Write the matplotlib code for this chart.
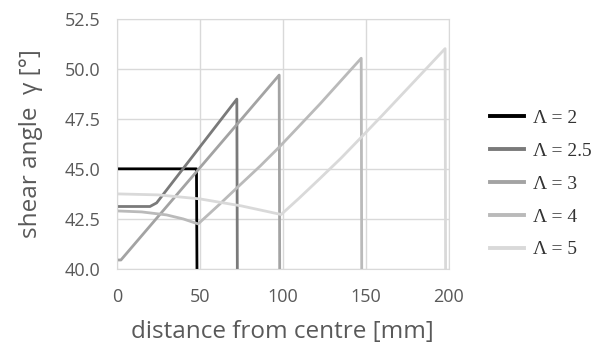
import matplotlib
matplotlib.use("Agg")
import matplotlib.pyplot as plt
from matplotlib.lines import Line2D

# shear angle along the radius for each aspect ratio
lam_labels = ["Λ = 2", "Λ = 2.5", "Λ = 3", "Λ = 4", "Λ = 5"]

x_l2 = [0, 48, 48.3]
y_l2 = [45.0, 45.0, 40.0]

x_l25 = [0, 20, 24, 72.3, 72.6]
y_l25 = [43.12, 43.12, 43.3, 48.48, 40.0]

x_l3 = [0, 2.5, 97.8, 98.1]
y_l3 = [40.45, 40.45, 49.68, 40.0]

x_l4 = [0, 15, 30, 40, 49, 61.5, 74, 86.5, 98, 110, 122.5, 135, 147.2, 147.5]
y_l4 = [42.9, 42.85, 42.7, 42.5, 42.25, 43.2, 44.18, 45.15, 46.1, 47.15, 48.25,
        49.4, 50.52, 40.0]

x_l5 = [0, 25, 50, 75, 99, 110, 122.5, 135, 147.5, 160, 172.5, 185, 197.7, 198.0]
y_l5 = [43.75, 43.7, 43.5, 43.15, 42.72, 43.55, 44.53, 45.53, 46.6, 47.68, 48.78,
        49.88, 51.0, 40.0]

colors = ["#000000", "#7a7a7a", "#a3a3a3", "#bababa", "#d9d9d9"]

fig = plt.figure(figsize=(6.05, 3.44), dpi=100)
ax = fig.add_axes([0.193, 0.218, 0.549, 0.728])

series = [(x_l2, y_l2), (x_l25, y_l25), (x_l3, y_l3), (x_l4, y_l4), (x_l5, y_l5)]
for (xs, ys), c in zip(series, colors):
    ax.plot(xs, ys, color=c, lw=2.0, solid_joinstyle="round")

ax.set_xlim(0, 200)
ax.set_ylim(40, 52.5)
ax.set_xticks([0, 50, 100, 150, 200])
ax.set_yticks([40, 42.5, 45, 47.5, 50, 52.5])
ax.set_yticklabels(["40.0", "42.5", "45.0", "47.5", "50.0", "52.5"])
ax.grid(True, color="#d9d9d9", lw=1.0)
ax.set_axisbelow(True)
for s in ax.spines.values():
    s.set_color("#d9d9d9")
ax.tick_params(axis="x", length=0, labelsize=13, colors="#595959", pad=14)
ax.tick_params(axis="y", length=0, labelsize=13, colors="#595959", pad=12)
for t in ax.get_xticklabels() + ax.get_yticklabels():
    t.set_family("Open Sans")

ax.set_xlabel("distance from centre [mm]", family="Open Sans", fontsize=17.5,
              color="#595959", labelpad=9.5)
ax.set_ylabel("shear angle  γ [°]", family="Open Sans", fontsize=17.5,
              color="#595959", labelpad=15)

handles = [Line2D([], [], color=c, lw=2.8) for c in colors]
leg = fig.legend(handles, lam_labels, loc="center left",
                 bbox_to_anchor=(0.81, 0.465), frameon=False,
                 borderaxespad=0, borderpad=0,
                 prop={"family": "Liberation Serif", "size": 14},
                 handlelength=1.75, handletextpad=0.45, labelspacing=0.78)
for t in leg.get_texts():
    t.set_color("#333333")

fig.savefig("out.png", dpi=100)
